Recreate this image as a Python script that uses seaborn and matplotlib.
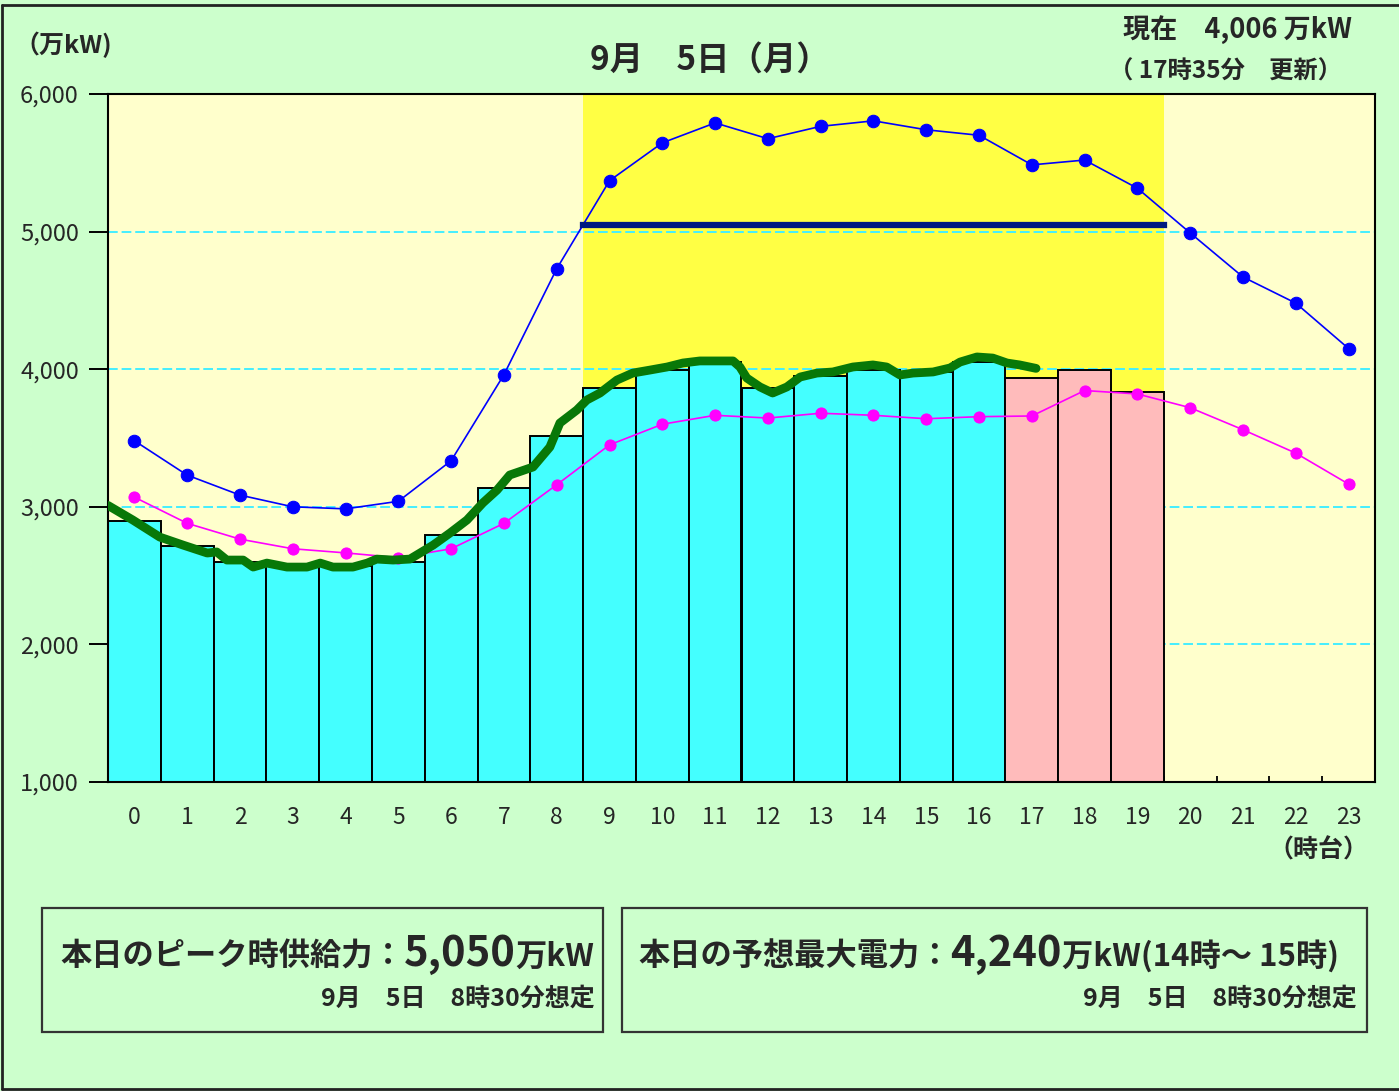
import matplotlib
matplotlib.use("Agg")
import matplotlib.pyplot as plt
import numpy as np
import pandas as pd
import seaborn as sns
from matplotlib.patches import Rectangle
from matplotlib.lines import Line2D
from matplotlib.ticker import FuncFormatter, FixedLocator

# ---- data (万kW) -------------------------------------------------------
hours = list(range(24))
hour_labels = [str(h) for h in hours]

# hourly demand: results for 0-16時, estimates for 17-19時
bar_hours = list(range(20))
bar_values = [2900, 2715, 2600, 2570, 2570, 2600, 2795, 3140, 3515, 3865,
              3995, 4050, 3865, 3950, 3995, 3980, 4050, 3935, 3995, 3835]
bar_kind = ["実績"] * 17 + ["見込"] * 3

# comparison curves (hourly)
blue_values = [3480, 3230, 3085, 3000, 2985, 3040, 3335, 3960, 4730, 5370,
               5645, 5790, 5675, 5765, 5805, 5740, 5700, 5485, 5520, 5315,
               4990, 4670, 4480, 4150]
pink_values = [3070, 2880, 2765, 2695, 2665, 2630, 2695, 2880, 3160, 3450,
               3600, 3665, 3645, 3680, 3665, 3640, 3655, 3660, 3845, 3820,
               3720, 3560, 3390, 3165]

# 5-minute demand up to 17:35 (time of day in hours, value)
live_time = [0.00, 0.47, 0.98, 1.42, 1.88, 2.06, 2.25, 2.56, 2.75, 3.01,
             3.39, 3.77, 4.02, 4.26, 4.64, 4.91, 5.09, 5.40, 5.72, 5.91,
             6.16, 6.48, 6.80, 7.10, 7.37, 7.61, 8.05, 8.37, 8.56, 8.88,
             9.07, 9.32, 9.64, 9.94, 10.27, 10.59, 10.89, 11.21, 11.53, 11.84,
             11.97, 12.10, 12.35, 12.59, 12.86, 13.11, 13.43, 13.73, 14.11, 14.49,
             14.75, 15.00, 15.25, 15.63, 15.95, 16.14, 16.46, 16.76, 17.03, 17.27,
             17.58]
live_value = [3010, 2904, 2780, 2722, 2664, 2672, 2613, 2613, 2562, 2591,
              2562, 2562, 2591, 2562, 2562, 2591, 2620, 2613, 2620, 2664,
              2722, 2810, 2904, 3028, 3122, 3231, 3289, 3434, 3609, 3703,
              3776, 3827, 3921, 3972, 3994, 4016, 4045, 4060, 4060, 4060,
              4016, 3936, 3871, 3827, 3871, 3943, 3972, 3980, 4016, 4031,
              4016, 3958, 3972, 3980, 4009, 4052, 4089, 4081, 4045, 4031,
              4006]

peak_supply = 5050
peak_span = (9, 20)          # 9時台〜19時台
y_ticks = [1000, 2000, 3000, 4000, 5000, 6000]

# ---- style -------------------------------------------------------------
sns.set_style("white")
JP = ["Noto Sans CJK JP", "DejaVu Sans"]
plt.rcParams["font.family"] = JP
plt.rcParams["axes.axisbelow"] = True

FIG_BG = "#CCFFCC"
PLOT_BG = "#FFFFCC"
SPAN_BG = "#FFFF44"
CYAN = "#44FFFF"
PINK = "#FFBBBB"
GRID = "#44EEFF"

W, H = 1399, 1091
fig = plt.figure(figsize=(W / 100, H / 100), dpi=100, facecolor=FIG_BG)
ax = fig.add_axes([108 / W, 1 - 782 / H, (1375 - 108) / W, (782 - 94) / H])
ax.set_facecolor(PLOT_BG)

# bar centres sit in the middle of each hour
bars = pd.DataFrame({"pos": [h + 0.5 for h in bar_hours],
                     "value": bar_values, "kind": bar_kind})
curves = pd.DataFrame({"pos": [h + 0.5 for h in hours],
                       "blue": blue_values, "pink": pink_values})
live = pd.DataFrame({"t": live_time, "value": live_value})

ax.axvspan(*peak_span, color=SPAN_BG, zorder=0.2, lw=0)

sns.barplot(data=bars, x="pos", y="value", hue="kind", native_scale=True,
            palette={"実績": CYAN, "見込": PINK}, width=1.0, dodge=False,
            edgecolor="black", linewidth=1.4, saturation=1, legend=False,
            ax=ax, zorder=1)

sns.lineplot(data=curves, x="pos", y="blue", color="#0000FF", lw=1.2,
             marker="o", markersize=9, markeredgecolor="#0000FF", ax=ax, zorder=3)
sns.lineplot(data=curves, x="pos", y="pink", color="#FF00FF", lw=1.2,
             marker="o", markersize=8, markeredgecolor="#FF00FF", ax=ax, zorder=3)

ax.hlines(peak_supply, *peak_span, color="#001A80", lw=4.5, zorder=4,
          capstyle="projecting")

sns.lineplot(data=live, x="t", y="value", color="#087808", lw=6.3, ax=ax,
             zorder=5, solid_capstyle="round", solid_joinstyle="round")

# ---- axes ----------------------------------------------------------------
ax.set_xlim(0, 24)
ax.set_ylim(1000, 6000)
ax.set_xlabel("")
ax.set_ylabel("")
ax.yaxis.set_major_locator(FixedLocator(y_ticks))
ax.yaxis.set_major_formatter(FuncFormatter(lambda v, p: f"{int(v):,}"))
ax.set_xticks([h + 0.5 for h in hours])
ax.set_xticklabels(hour_labels)
ax.xaxis.set_minor_locator(FixedLocator(list(range(1, 24))))
ax.tick_params(axis="x", which="major", length=0, pad=17, labelsize=16.5)
ax.tick_params(axis="x", which="minor", direction="in", length=4, width=1.3,
               color="black", bottom=True)
ax.tick_params(axis="y", which="major", length=14, width=1.4, pad=7,
               labelsize=17, color="black", left=True)
for lab in ax.get_xticklabels() + ax.get_yticklabels():
    lab.set_family(JP)
ax.grid(False)
ax.yaxis.grid(True, color=GRID, lw=1.4, linestyle=(0, (5, 2)))
ax.xaxis.grid(False)
for s in ax.spines.values():
    s.set_visible(True)
    s.set_color("black")
    s.set_linewidth(1.5)

# ---- text ----------------------------------------------------------------
def fx(px):
    return px / W

def fy(py):
    return 1 - py / H

fig.text(fx(14), fy(45), "（万kW)", fontsize=18, fontweight="bold",
         ha="left", va="center")
fig.text(fx(710), fy(60), "9月　5日（月）", fontsize=24, fontweight="bold",
         ha="center", va="center")
fig.text(fx(1352), fy(30), "現在　4,006 万kW", fontsize=19.5, fontweight="bold",
         ha="right", va="center")
fig.text(fx(1342), fy(72), "（ 17時35分　更新）", fontsize=17.5, fontweight="bold",
         ha="right", va="center")
fig.text(fx(1368), fy(850), "（時台）", fontsize=18, fontweight="bold",
         ha="right", va="center")

renderer = fig.canvas.get_renderer()


def text_row(x_px, base_px, pieces):
    """Place text pieces one after another on a common baseline."""
    x = x_px
    for s, size in pieces:
        t = fig.text(fx(x), fy(base_px), s, fontsize=size, fontweight="bold",
                     ha="left", va="baseline")
        x += t.get_window_extent(renderer).width


# info boxes
for (x0, x1) in [(42, 603), (622, 1367)]:
    fig.add_artist(Rectangle((fx(x0), fy(1032)), fx(x1 - x0), (1032 - 908) / H,
                             transform=fig.transFigure, fill=False,
                             edgecolor="#333333", lw=1.6))

text_row(60, 966, [("本日のピーク時供給力：", 22.5), (f"{peak_supply:,}", 30),
                   ("万kW", 22.5)])
fig.text(fx(595), fy(1006), "9月　5日　8時30分想定", fontsize=18,
         fontweight="bold", ha="right", va="baseline")

text_row(638, 966, [("本日の予想最大電力：", 22.5), ("4,240", 30),
                    ("万kW(14時～ 15時)", 22.5)])
fig.text(fx(1357), fy(1006), "9月　5日　8時30分想定", fontsize=18,
         fontweight="bold", ha="right", va="baseline")

# outer frame
for xs, ys in [((2, 2), (5, 1089)), ((2, W), (5, 5)), ((2, W), (1089, 1089))]:
    fig.add_artist(Line2D([fx(v) for v in xs], [fy(v) for v in ys],
                          transform=fig.transFigure, color="#222222", lw=2))

fig.savefig("out.png", dpi=100, facecolor=FIG_BG)
